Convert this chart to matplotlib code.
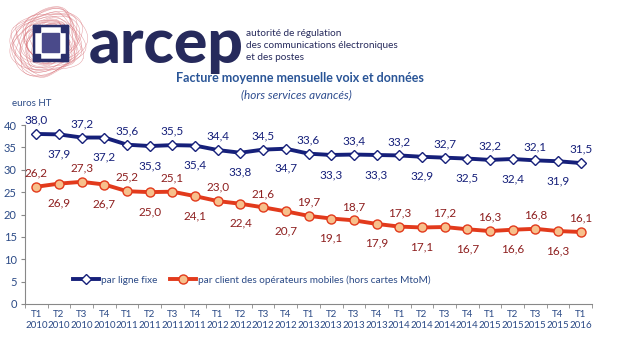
import matplotlib
matplotlib.use("Agg")
import matplotlib.pyplot as plt
import matplotlib.patches as mpatches
import numpy as np

quarters = ["T1", "T2", "T3", "T4"]
years = ["2010", "2011", "2012", "2013", "2014", "2015", "2016"]
categories = [f"{q}\n{y}" for y in years for q in quarters][:25]

fixe = [38.0, 37.9, 37.2, 37.2, 35.6, 35.3, 35.5, 35.4, 34.4, 33.8, 34.5, 34.7,
        33.6, 33.3, 33.4, 33.3, 33.2, 32.9, 32.7, 32.5, 32.2, 32.4, 32.1, 31.9, 31.5]
mobile = [26.2, 26.9, 27.3, 26.7, 25.2, 25.0, 25.1, 24.1, 23.0, 22.4, 21.6, 20.7,
          19.7, 19.1, 18.7, 17.9, 17.3, 17.1, 17.2, 16.7, 16.3, 16.6, 16.8, 16.3, 16.1]
series_names = ["par ligne fixe", "par client des opérateurs mobiles (hors cartes MtoM)"]

plt.rcParams['font.family'] = ['Lato', 'DejaVu Sans']

navy = "#16207A"
red = "#E23A1C"
lab_red = "#8E1F1F"
axis_txt = "#2B4A86"

fig = plt.figure(figsize=(6.2, 3.5), dpi=100)
W, H = 620, 350
def fx(px): return px / W
def fy(py): return 1 - py / H

ax = fig.add_axes([fx(25), fy(304), fx(592) - fx(25), fy(125) - fy(304)])
x = np.arange(len(categories))
ax.plot(x, fixe, color=navy, lw=2.8, marker="D", ms=5, mfc="white", mec=navy, mew=1.0,
        label=series_names[0], zorder=3)
ax.plot(x, mobile, color=red, lw=2.8, marker="o", ms=6.5, mfc="#F7C08C", mec=red, mew=1.0,
        label=series_names[1], zorder=3)

for i, (a, b) in enumerate(zip(fixe, mobile)):
    off = 10 if i % 2 == 0 else -14
    ax.annotate(f"{a:.1f}".replace(".", ","), (i, a), xytext=(0, off), textcoords="offset points",
                ha="center", va="center", fontsize=8.5, color=navy)
    ax.annotate(f"{b:.1f}".replace(".", ","), (i, b), xytext=(0, off), textcoords="offset points",
                ha="center", va="center", fontsize=8.5, color=lab_red)

ax.set_xlim(-0.5, len(categories) - 0.5)
ax.set_ylim(0, 40)
ax.set_yticks(np.arange(0, 41, 5))
ax.set_xticks(x)
ax.set_xticklabels(categories, fontsize=7, color=axis_txt, linespacing=1.3)
ax.set_xticks(np.arange(-0.5, len(categories), 1), minor=True)
ax.tick_params(axis="x", which="major", length=0, pad=4)
ax.tick_params(axis="x", which="minor", length=3, color="#888888")
ax.tick_params(axis="y", length=3, color="#888888", labelsize=8, labelcolor=axis_txt, pad=3)
for s in ["top", "right"]:
    ax.spines[s].set_visible(False)
for s in ["left", "bottom"]:
    ax.spines[s].set_color("#888888")

leg = ax.legend(loc="center", bbox_to_anchor=(0.40, 0.135), ncol=2, frameon=False,
                fontsize=7.2, handlelength=2.6, handletextpad=0.15, columnspacing=1.3)
for t in leg.get_texts():
    t.set_color(axis_txt)

fig.text(fx(12), fy(104), "euros HT", fontsize=7, color=axis_txt, ha="left", va="center")

# titles
fig.text(fx(300), fy(78), "Facture moyenne mensuelle voix et données", fontsize=9,
         fontweight="bold", color="#2A5597", ha="center", va="center")
fig.text(fx(296), fy(95), "(hors services avancés)", fontsize=8.5, style="italic",
         color="#2E4D8F", ha="center", va="center")

# logo
la = fig.add_axes([0, fy(82), fx(92), fy(0) - fy(82)])
la.set_xlim(0, 92); la.set_ylim(82, 0); la.axis("off")
t = np.linspace(0, 2 * np.pi, 200)
for k in range(22):
    r = 26 + 8 * np.sin(k * 1.7)
    ph = k * 0.45
    la.plot(48 + r * np.cos(t + ph) * (1 + 0.18 * np.sin(3 * t + k)),
            42 + r * np.sin(t + ph) * (1 + 0.18 * np.cos(2 * t + k)),
            color="#D9737A", lw=0.35, alpha=0.7)
# frame icon
x0, y0, x1, y1 = 33, 25, 68, 61
ix0, iy0, ix1, iy1 = 42, 33, 59, 52
la.add_patch(mpatches.Rectangle((x0, y0), x1 - x0, y1 - y0, color="#2A2F6B", zorder=3))
for poly in [[(x0 + 3, y0 + 3), (x1 - 3, y0 + 3), (ix1, iy0), (ix0, iy0)],
             [(x0 + 3, y1 - 3), (x1 - 3, y1 - 3), (ix1, iy1), (ix0, iy1)],
             [(x0 + 3, y0 + 3), (x0 + 3, y1 - 3), (ix0, iy1), (ix0, iy0)],
             [(x1 - 3, y0 + 3), (x1 - 3, y1 - 3), (ix1, iy1), (ix1, iy0)]]:
    la.add_patch(mpatches.Polygon(poly, closed=True, color="white", zorder=4))
la.add_patch(mpatches.Rectangle((ix0, iy0), ix1 - ix0, iy1 - iy0, color="#4A4A8A", zorder=5))
for (cx, cy) in [(x0, y0), (x1 - 7, y0), (x0, y1 - 7), (x1 - 7, y1 - 7)]:
    la.add_patch(mpatches.Rectangle((cx, cy), 7, 7, color="#2A2F6B", zorder=6))

fig.text(fx(89), fy(63), "arcep", fontsize=45, fontweight="black", color="#262A5C",
         ha="left", va="baseline")
for i, line in enumerate(["autorité de régulation", "des communications électroniques",
                          "et des postes"]):
    fig.text(fx(246), fy(34 + 11.5 * i), line, fontsize=7.2, color="#262A5C",
             ha="left", va="center")

fig.savefig("out.png", dpi=100)
